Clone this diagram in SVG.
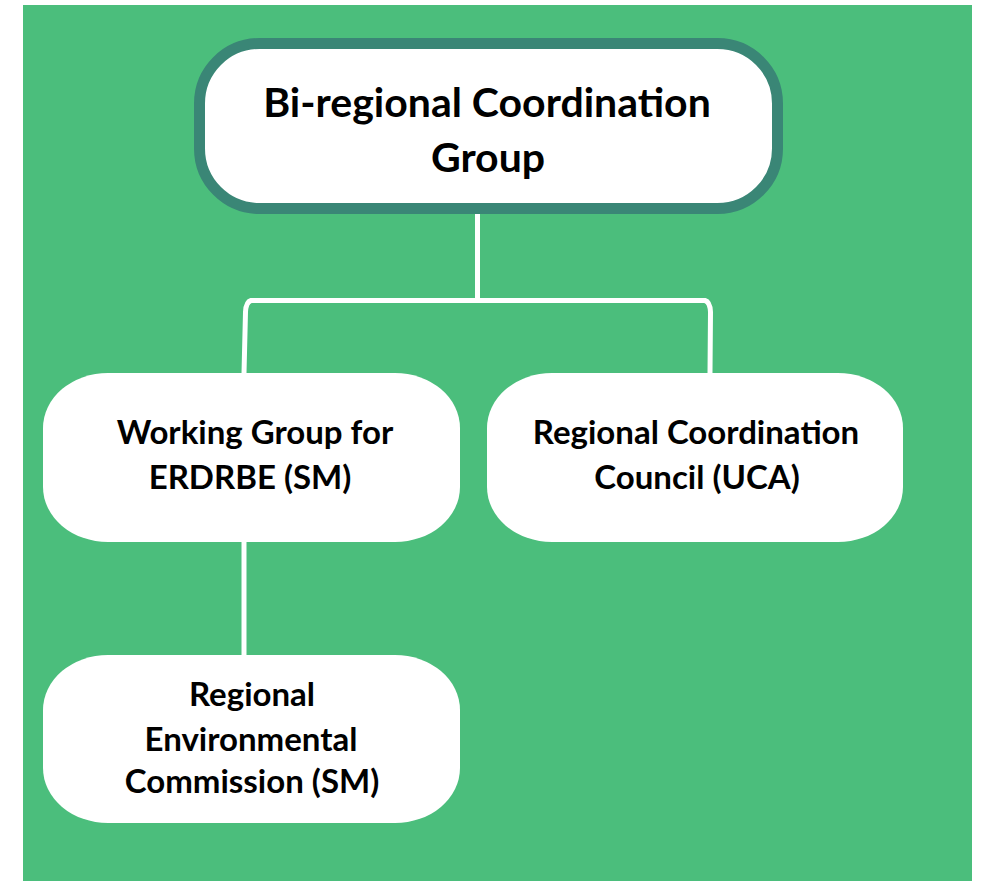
<svg xmlns="http://www.w3.org/2000/svg" width="982" height="881" viewBox="0 0 982 881">
<style>
.bg{fill:#4bbe7c}
.node{fill:#ffffff}
.top{fill:#ffffff;stroke:#3a8676;stroke-width:11}
.conn{fill:none;stroke:#ffffff;stroke-width:5}
.t{font-family:Lato,"Liberation Sans",sans-serif;font-weight:bold;fill:#000000;text-anchor:middle}
.tl{font-size:41px}
.ts{font-size:33px}
</style>
<rect width="982" height="881" fill="#ffffff"/>
<rect class="bg" x="23" y="5" width="949" height="876"/>
<g id="connectors">
<path class="conn" d="M477.5 213 V300.5"/>
<path class="conn" d="M244 373 L245.5 312 Q246 302 251 300.5 L705 300.5 Q710 302 710.5 312 L710 373"/>
<path class="conn" d="M244 540 V657"/>
</g>
<g id="node-bcg">
<rect class="top" x="199.5" y="43.5" width="578" height="165" rx="60" ry="60"/>
<text class="t tl" x="487" y="117">Bi-regional Coordination</text>
<text class="t tl" x="488" y="172">Group</text>
</g>
<g id="node-wg">
<rect class="node" x="43" y="373" width="417" height="169" rx="65" ry="55"/>
<text class="t ts" x="255" y="444">Working Group for</text>
<text class="t ts" x="250" y="489">ERDRBE (SM)</text>
</g>
<g id="node-rcc">
<rect class="node" x="487" y="373" width="416" height="169" rx="65" ry="55"/>
<text class="t ts" x="696" y="444">Regional Coordination</text>
<text class="t ts" x="697" y="489">Council (UCA)</text>
</g>
<g id="node-rec">
<rect class="node" x="43" y="655" width="417" height="168" rx="65" ry="55"/>
<text class="t ts" x="252" y="706">Regional</text>
<text class="t ts" x="251" y="751">Environmental</text>
<text class="t ts" x="252" y="793">Commission (SM)</text>
</g>
</svg>
